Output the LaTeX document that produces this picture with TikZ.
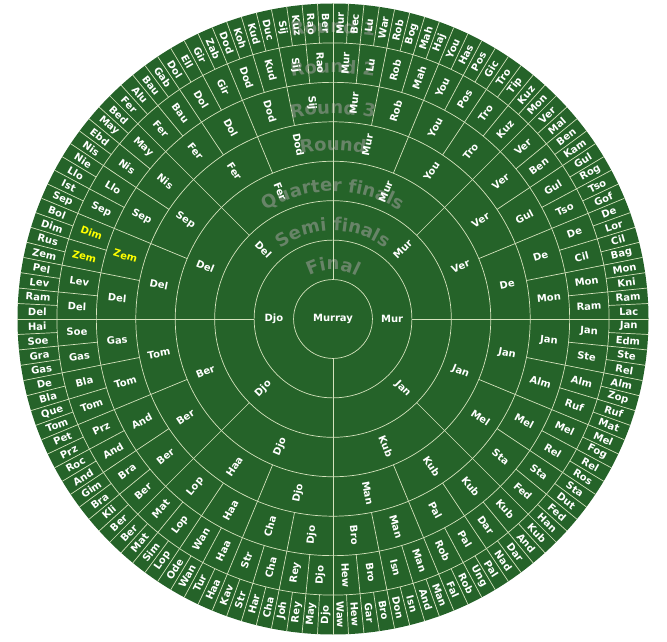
\documentclass[tikz,border=0pt]{standalone}
\usepackage{fontspec}
\newfontfamily\dv{DejaVu Sans}
\usetikzlibrary{decorations.text}
\definecolor{bggreen}{RGB}{37,99,41}
\definecolor{linecol}{RGB}{212,226,188}
\definecolor{ringgray}{RGB}{104,132,104}
\definecolor{hl}{RGB}{255,255,0}
\newcommand{\Y}{\color{hl}}
\newcommand{\ringfont}{\dv\bfseries\fontsize{18}{18}\selectfont}
\def\s{39.44}
\newcommand{\placering}[3]{%
  \pgfmathsetmacro\segd{360/#2}
  \foreach \nm [count=\i from 0] in {#3} {
    \pgfmathsetmacro\a{90-(\i+0.5)*\segd}
    \pgfmathsetmacro\an{\a<-90 ? \a+360 : \a}
    \pgfmathsetmacro\rot{(\an>-90 && \an<90) ? \an : \an+180}
    \node[namestyle, rotate=\rot] (n-#1-\i) at (\an:{(#1+0.5)*\s}) {\nm};
  }}
\begin{document}
\begin{tikzpicture}[x=1pt,y=1pt,
  namestyle/.style={font=\dv\bfseries\fontsize{10}{10}\selectfont, text=white, inner sep=0pt},
  grid line/.style={draw=linecol, line width=0.7pt}]
\useasboundingbox (0,0) rectangle (667,641);
\begin{scope}[shift={(333,322)}]
\fill[bggreen] (0,0) circle (315.5);
% ring titles
\path[decorate, decoration={text along path, text={|\ringfont|Final}, text align=center, text color=ringgray}] (165:49) arc[start angle=165, end angle=15, radius=49];
\path[decorate, decoration={text along path, text={|\ringfont|Semi finals}, text align=center, text color=ringgray}] (165:88) arc[start angle=165, end angle=15, radius=88];
\path[decorate, decoration={text along path, text={|\ringfont|Quarter finals}, text align=center, text color=ringgray}] (165:127.5) arc[start angle=165, end angle=15, radius=127.5];
\path[decorate, decoration={text along path, text={|\ringfont|Round}, text align=center, text color=ringgray}] (165:168) arc[start angle=165, end angle=15, radius=168];
\path[decorate, decoration={text along path, text={|\ringfont|Round 3}, text align=center, text color=ringgray}] (165:205) arc[start angle=165, end angle=15, radius=205];
\path[decorate, decoration={text along path, text={|\ringfont|Round 2}, text align=center, text color=ringgray}] (165:246) arc[start angle=165, end angle=15, radius=246];
\path[decorate, decoration={text along path, text={|\ringfont|Round 1}, text align=center, text color=ringgray}] (165:286) arc[start angle=165, end angle=15, radius=286];
% grid
\foreach \j in {1,...,7} \draw[grid line] (0,0) circle ({\j*\s});
\foreach \j/\N in {1/2,2/4,3/8,4/16,5/32,6/64,7/128} {
  \pgfmathsetmacro\d{360/\N}
  \foreach \m in {1,...,\N}
    \draw[grid line] ({90-\m*\d}:{\j*\s}) -- ({90-\m*\d}:{(\j+1)*\s});
}
% names
\node[namestyle] (champion) at (0,0) {Murray};
\placering{1}{2}{Mur,Djo}
\placering{2}{4}{Mur,Jan,Djo,Del}
\placering{3}{8}{Mur,Ver,Jan,Kub,Djo,Ber,Del,Fer}
\placering{4}{16}{Mur,You,Ver,De,Jan,Mel,Kub,Man,Djo,Haa,Ber,Tom,Del,Sep,Fer,Dod}
\placering{5}{32}{Mur,Rob,You,Tro,Ver,Gul,De,Mon,Jan,Alm,Mel,Sta,Kub,Pal,Man,Bro,Djo,Cha,Haa,Lop,Ber,And,Tom,Gas,Del,{\Y Zem},Sep,Nis,Fer,Dol,Dod,Sij}
\placering{6}{64}{Mur,Lu,Rob,Mah,You,Pos,Tro,Kuz,Ver,Ben,Gul,Tso,De,Cil,Mon,Ram,Jan,Ste,Alm,Ruf,Mel,Rel,Sta,Fed,Kub,Dar,Pal,Rob,Man,Isn,Bro,Hew,Djo,Rey,Cha,Str,Haa,Wan,Lop,Mat,Ber,Bra,And,Prz,Tom,Bla,Gas,Soe,Del,Lev,{\Y Zem},{\Y Dim},Sep,Llo,Nis,May,Fer,Bau,Dol,Gir,Dod,Kud,Sij,Rao}
\placering{7}{128}{Mur,Bec,Lu,War,Rob,Bog,Mah,Haj,You,Has,Pos,Gic,Tro,Tip,Kuz,Mon,Ver,Mal,Ben,Kam,Gul,Rog,Tso,Gof,De,Lor,Cil,Bag,Mon,Kni,Ram,Lac,Jan,Edm,Ste,Rel,Alm,Zop,Ruf,Mat,Mel,Fog,Rel,Ros,Sta,Dut,Fed,Han,Kub,And,Dar,Nad,Pal,Ung,Rob,Fal,Man,And,Isn,Don,Bro,Gar,Hew,Waw,Djo,May,Rey,Joh,Cha,Har,Str,Kav,Haa,Tur,Wan,Ode,Lop,Sim,Mat,Ber,Ber,Kli,Bra,Gim,And,Roc,Prz,Pet,Tom,Que,Bla,De,Gas,Gra,Soe,Hai,Del,Ram,Lev,Pel,Zem,Rus,Dim,Bol,Sep,Ist,Llo,Nie,Nis,Ebd,May,Bed,Fer,Alu,Bau,Gab,Dol,Ell,Gir,Zab,Dod,Koh,Kud,Duc,Sij,Kuz,Rao,Ber}
\end{scope}
\end{tikzpicture}
\end{document}
